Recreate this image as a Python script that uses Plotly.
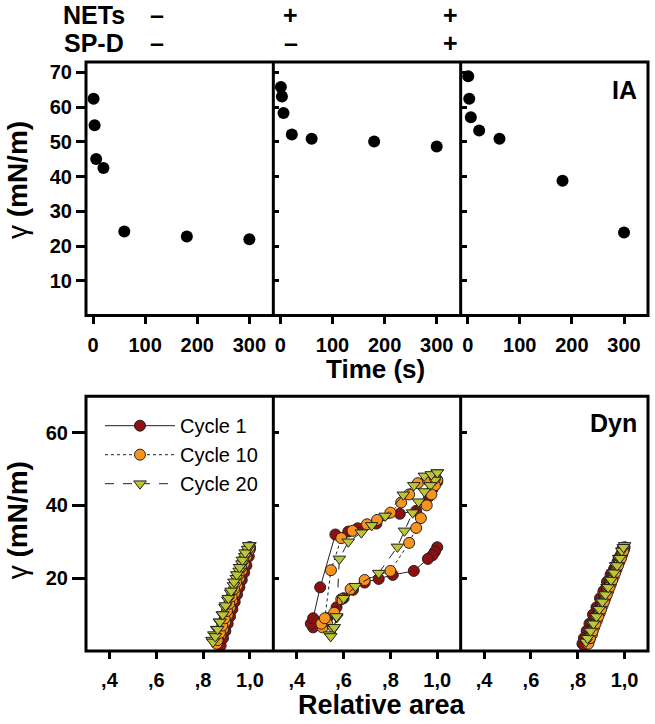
import plotly.graph_objects as go

# ---------------- Data ----------------
# Top row: interfacial adsorption (IA), surface tension vs time
ia_time_1 = [1, 3, 6, 20, 60, 180, 300]
ia_gamma_1 = [62.4, 54.8, 45.1, 42.5, 24.2, 22.8, 22.0]
ia_time_2 = [1, 3, 6, 22, 60, 180, 300]
ia_gamma_2 = [65.8, 63.1, 58.3, 52.1, 50.9, 50.1, 48.7]
ia_time_3 = [1, 3, 6, 22, 61, 182, 300]
ia_gamma_3 = [68.9, 62.4, 57.1, 53.3, 50.9, 38.8, 23.9]

# Bottom row: dynamic cycling (Dyn), surface tension vs relative area
# Panel 1: NETs -, SP-D -
c1_area_1 = [1.00, 0.99, 0.98, 0.97, 0.96, 0.95, 0.94, 0.93, 0.92, 0.91, 0.90, 0.89, 0.88, 0.87,
             0.875, 0.885, 0.895, 0.905, 0.915, 0.925, 0.935, 0.945, 0.955, 0.965, 0.975, 0.985, 0.995, 1.00]
c1_gamma_1 = [28.5, 27.0, 25.0, 23.0, 21.0, 19.0, 17.0, 14.5, 12.5, 10.0, 8.0, 6.0, 4.0, 2.0,
              1.5, 3.5, 5.5, 7.5, 9.5, 11.5, 13.5, 15.5, 17.5, 19.5, 21.5, 23.5, 26.0, 28.0]
c10_area_1 = [0.995, 0.985, 0.975, 0.965, 0.955, 0.945, 0.935, 0.925, 0.915, 0.905, 0.895, 0.885, 0.875, 0.865,
              0.858, 0.862, 0.872, 0.882, 0.892, 0.902, 0.912, 0.922, 0.932, 0.942, 0.952, 0.962, 0.972, 0.985, 0.998]
c10_gamma_1 = [27.5, 26.0, 24.0, 22.0, 20.0, 18.0, 16.0, 14.0, 12.0, 10.0, 8.0, 6.0, 4.5, 3.0,
               2.0, 3.0, 5.0, 7.0, 9.0, 11.0, 13.0, 15.0, 17.0, 19.0, 21.0, 23.0, 25.0, 27.0, 28.5]
c20_area_1 = [1.00, 0.99, 0.978, 0.966, 0.954, 0.942, 0.93, 0.918, 0.906, 0.894, 0.882, 0.87, 0.858, 0.846,
              0.838, 0.842, 0.852, 0.862, 0.872, 0.884, 0.896, 0.908, 0.92, 0.932, 0.944, 0.956, 0.968, 0.98, 0.995]
c20_gamma_1 = [29.0, 28.0, 26.0, 24.0, 22.0, 20.0, 18.0, 16.0, 14.0, 12.0, 10.0, 8.0, 6.0, 4.5,
               3.0, 2.5, 4.0, 6.0, 8.0, 10.0, 12.5, 14.5, 16.5, 19.0, 21.0, 23.0, 25.0, 27.0, 29.0]

# Panel 2: NETs +, SP-D -
c1_area_2 = [1.00, 0.99, 0.98, 0.96, 0.90, 0.81, 0.75, 0.69, 0.64, 0.60, 0.57, 0.53, 0.50, 0.47,
             0.46, 0.47, 0.50, 0.565, 0.62, 0.66, 0.74, 0.84, 0.91, 0.95, 0.965, 0.98, 1.00]
c1_gamma_2 = [28.5, 27.3, 26.3, 25.3, 22.0, 20.9, 19.8, 18.8, 16.8, 14.5, 12.0, 9.0, 7.5, 6.5,
              7.5, 9.0, 17.5, 32.0, 32.8, 33.7, 35.0, 37.7, 38.5, 40.5, 42.5, 44.5, 46.5]
c10_area_2 = [1.00, 0.99, 0.975, 0.955, 0.93, 0.91, 0.88, 0.80, 0.69, 0.63, 0.59, 0.56, 0.53, 0.51,
              0.505, 0.52, 0.546, 0.59, 0.638, 0.70, 0.743, 0.80, 0.846, 0.88, 0.917, 0.96, 0.99]
c10_gamma_2 = [47.0, 45.5, 43.0, 40.0, 36.5, 33.8, 29.7, 22.0, 19.5, 17.0, 14.2, 10.5, 7.5, 6.5,
               7.5, 9.0, 22.2, 31.0, 33.0, 34.8, 36.0, 38.0, 40.8, 43.0, 46.1, 47.0, 47.5]
c20_area_2 = [1.00, 0.99, 0.97, 0.945, 0.92, 0.895, 0.86, 0.83, 0.75, 0.65, 0.60, 0.571, 0.555, 0.54,
              0.545, 0.56, 0.57, 0.582, 0.62, 0.676, 0.72, 0.778, 0.855, 0.90, 0.945, 0.975, 1.00]
c20_gamma_2 = [49.0, 47.0, 45.5, 43.8, 41.0, 38.0, 33.0, 28.6, 21.4, 17.8, 14.5, 9.2, 6.0, 4.5,
               4.0, 6.5, 9.5, 25.3, 30.0, 32.5, 34.5, 37.1, 42.9, 45.5, 48.1, 48.5, 49.0]

# Panel 3: NETs +, SP-D +
c1_area_3 = [1.00, 0.985, 0.97, 0.955, 0.94, 0.925, 0.91, 0.895, 0.88, 0.865, 0.85, 0.838, 0.826, 0.82,
             0.828, 0.84, 0.852, 0.864, 0.876, 0.888, 0.90, 0.912, 0.924, 0.936, 0.948, 0.96, 0.975, 0.99]
c1_gamma_3 = [28.5, 26.5, 24.5, 22.5, 21.0, 19.0, 16.5, 14.5, 12.0, 10.0, 7.5, 5.5, 3.5, 2.0,
              1.5, 3.0, 5.0, 7.0, 9.0, 11.0, 13.0, 15.0, 17.0, 19.0, 21.0, 23.0, 25.5, 28.0]
c10_area_3 = [0.998, 0.99, 0.978, 0.966, 0.954, 0.942, 0.93, 0.918, 0.906, 0.894, 0.882, 0.87, 0.86, 0.85,
              0.845, 0.852, 0.864, 0.876, 0.888, 0.90, 0.912, 0.924, 0.936, 0.948, 0.96, 0.972, 0.985, 0.995]
c10_gamma_3 = [28.0, 26.5, 24.5, 22.5, 20.5, 18.5, 16.5, 14.5, 12.5, 10.5, 8.5, 6.5, 4.5, 3.0,
               2.0, 3.5, 5.5, 7.5, 9.5, 11.5, 13.5, 15.5, 17.5, 19.5, 21.5, 23.5, 25.5, 27.5]
c20_area_3 = [1.00, 0.988, 0.975, 0.962, 0.95, 0.938, 0.925, 0.912, 0.90, 0.888, 0.875, 0.862, 0.85, 0.84,
              0.835, 0.842, 0.855, 0.867, 0.88, 0.892, 0.905, 0.918, 0.93, 0.942, 0.955, 0.968, 0.98, 0.995]
c20_gamma_3 = [29.0, 27.5, 25.5, 23.5, 21.5, 19.5, 17.5, 15.5, 13.5, 11.5, 9.5, 7.5, 5.5, 3.5,
               2.5, 3.5, 5.5, 7.5, 9.5, 11.5, 13.5, 15.5, 17.5, 19.5, 21.5, 23.5, 25.5, 28.5]

cycle_names = ["Cycle 1", "Cycle 10", "Cycle 20"]
time_ticks = [0, 100, 200, 300]
ia_yticks = [10, 20, 30, 40, 50, 60, 70]
area_ticks = [0.4, 0.6, 0.8, 1.0]
area_ticktext = [",4", ",6", ",8", "1,0"]
dyn_yticks = [20, 40, 60]
header_rows = ["NETs", "SP-D"]
header_signs = [["\u2013", "+", "+"], ["\u2013", "\u2013", "+"]]

# ---------------- Styling ----------------
FONT = "Liberation Sans, Arial, sans-serif"
cyc_colors = ["#8E1010", "#F7941E", "#BDC534"]
cyc_symbols = ["circle", "circle", "triangle-down"]
cyc_dash = ["solid", "dot", "dash"]

fig = go.Figure()

# Top row traces
for i, (t, g) in enumerate([(ia_time_1, ia_gamma_1), (ia_time_2, ia_gamma_2), (ia_time_3, ia_gamma_3)]):
    fig.add_trace(go.Scatter(
        x=t, y=g, mode="markers", xaxis=f"x{i+1 if i else ''}", yaxis=f"y{i+1 if i else ''}",
        marker=dict(color="black", size=12), showlegend=False, cliponaxis=False))

dyn = [
    [(c1_area_1, c1_gamma_1), (c10_area_1, c10_gamma_1), (c20_area_1, c20_gamma_1)],
    [(c1_area_2, c1_gamma_2), (c10_area_2, c10_gamma_2), (c20_area_2, c20_gamma_2)],
    [(c1_area_3, c1_gamma_3), (c10_area_3, c10_gamma_3), (c20_area_3, c20_gamma_3)],
]
for p, panel in enumerate(dyn):
    for c, (a, g) in enumerate(panel):
        fig.add_trace(go.Scatter(
            x=a, y=g, mode="lines+markers", name=cycle_names[c],
            xaxis=f"x{p+4}", yaxis=f"y{p+4}",
            line=dict(color="#222222", width=1, dash=cyc_dash[c]),
            marker=dict(color=cyc_colors[c], size=11, symbol=cyc_symbols[c],
                        line=dict(color="#222222", width=1)),
            showlegend=(p == 0), cliponaxis=False))

# ---------------- Axes ----------------
xdoms = [[0, 1/3], [1/3, 2/3], [2/3, 1]]
top_dom = [0.5694, 1.0]
bot_dom = [0.0, 0.4327]
tickfont = dict(family=FONT, size=20, color="black", weight="bold")
common = dict(showline=False, showgrid=False, zeroline=False, tickcolor="black", tickwidth=2.5)

layout_axes = {}
for i in range(3):
    n = i + 1
    sx = "" if n == 1 else str(n)
    layout_axes[f"xaxis{sx}"] = dict(
        domain=xdoms[i], anchor=f"y{sx}", range=[-13.5, 346], tickvals=time_ticks,
        ticks="outside", ticklen=7, tickfont=tickfont, ticklabelstandoff=4, **common)
    layout_axes[f"yaxis{sx}"] = dict(
        domain=top_dom, anchor=f"x{sx}", range=[0, 73], tickvals=ia_yticks,
        ticks="outside" if i == 0 else "inside", ticklen=9 if i == 0 else 6,
        showticklabels=(i == 0), tickfont=tickfont, **common)
    m = i + 4
    layout_axes[f"xaxis{m}"] = dict(
        domain=xdoms[i], anchor=f"y{m}", range=[0.3, 1.1], tickvals=area_ticks,
        ticktext=area_ticktext, ticks="outside", ticklen=7, tickfont=tickfont,
        ticklabelstandoff=4, **common)
    layout_axes[f"yaxis{m}"] = dict(
        domain=bot_dom, anchor=f"x{m}", range=[0, 70], tickvals=dyn_yticks,
        ticks="outside" if i == 0 else "inside", ticklen=13 if i == 0 else 6,
        showticklabels=(i == 0), tickfont=tickfont, **common)

fig.update_layout(**layout_axes)

# Panel frames
shapes = []
for dom in (top_dom, bot_dom):
    shapes.append(dict(type="rect", xref="paper", yref="paper", x0=0, x1=1, y0=dom[0], y1=dom[1],
                       line=dict(color="black", width=3), fillcolor="rgba(0,0,0,0)", layer="above"))
    for xb in (1/3, 2/3):
        shapes.append(dict(type="line", xref="paper", yref="paper", x0=xb, x1=xb, y0=dom[0], y1=dom[1],
                           line=dict(color="black", width=3), layer="above"))

# ---------------- Text ----------------
L, R, T, B = 86, 6.5, 62, 73.3
W, H = 655, 724
pw, ph = W - L - R, H - T - B


def px(x):
    return (x - L) / pw


def py(y):
    return (H - B - y) / ph


ann = []
row_y = [15, 43]
sign_x = [157, 291, 451]
hfont = dict(family=FONT, size=25, color="black")
for r, label in enumerate(header_rows):
    ann.append(dict(text=f"<b>{label}</b>", x=px(94), y=py(row_y[r]), xref="paper", yref="paper",
                    showarrow=False, font=hfont, xanchor="center", yanchor="middle"))
    for k, s in enumerate(header_signs[r]):
        ann.append(dict(text=f"<b>{s}</b>", x=px(sign_x[k]), y=py(row_y[r]), xref="paper", yref="paper",
                        showarrow=False, font=hfont, xanchor="center", yanchor="middle"))

ann.append(dict(text="<b>IA</b>", x=px(639), y=py(90), xref="paper", yref="paper", showarrow=False,
                font=dict(family=FONT, size=25, color="black"), xanchor="right", yanchor="middle"))
ann.append(dict(text="<b>Dyn</b>", x=px(639), y=py(423), xref="paper", yref="paper", showarrow=False,
                font=dict(family=FONT, size=25, color="black"), xanchor="right", yanchor="middle"))
ann.append(dict(text="<b>Time (s)</b>", x=px(376), y=py(369), xref="paper", yref="paper", showarrow=False,
                font=dict(family=FONT, size=26, color="black"), xanchor="center", yanchor="middle"))
ann.append(dict(text="<b>Relative area</b>", x=px(382), y=py(705), xref="paper", yref="paper", showarrow=False,
                font=dict(family=FONT, size=27, color="black"), xanchor="center", yanchor="middle"))
for yc in [180, 520]:
    ann.append(dict(text="\u03b3 <b>(mN/m)</b>", x=px(17), y=py(yc), xref="paper", yref="paper",
                    showarrow=False, textangle=-90,
                    font=dict(family=FONT, size=28, color="black"), xanchor="center", yanchor="middle"))

fig.update_layout(
    width=W, height=H, margin=dict(l=L, r=R, t=T, b=B),
    paper_bgcolor="white", plot_bgcolor="white",
    annotations=ann, shapes=shapes,
    legend=dict(x=px(100), y=py(406), xanchor="left", yanchor="top",
                font=dict(family=FONT, size=20, color="black"),
                bgcolor="rgba(0,0,0,0)", itemwidth=70, tracegroupgap=0),
    font=dict(family=FONT, color="black"),
)

fig.write_html("out.html", config={"displayModeBar": False},
               post_script="document.body.style.margin='0px';")
